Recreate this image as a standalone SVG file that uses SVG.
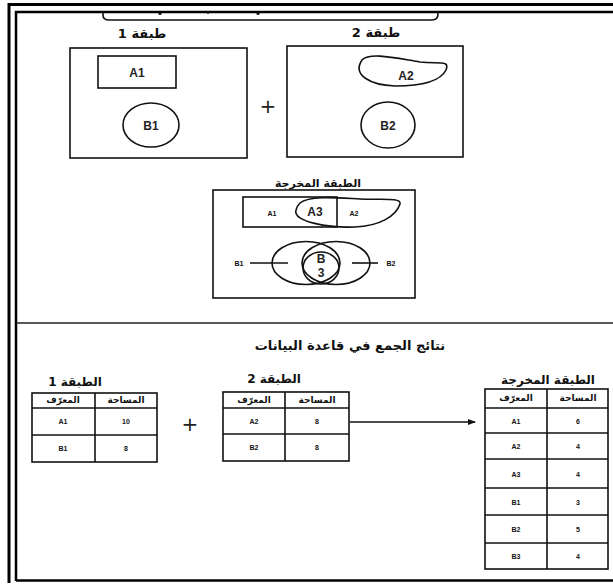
<svg xmlns="http://www.w3.org/2000/svg" width="613" height="584" viewBox="0 0 613 584">
<style>
.ln{fill:none;stroke:#111;stroke-width:1.6}
.tb{fill:#fff;stroke:#111;stroke-width:1.6}
.lbl{font-family:"Liberation Sans",Arial,sans-serif;font-size:12px;font-weight:bold;fill:#222;text-anchor:middle;dominant-baseline:central}
.pl{font-family:"DejaVu Sans",sans-serif;font-size:20px;fill:#222;text-anchor:middle;dominant-baseline:central}
.sm{font-family:"Liberation Sans",Arial,sans-serif;font-size:7px;font-weight:bold;fill:#111;text-anchor:middle;dominant-baseline:central}
.ar{font-family:"DejaVu Sans",sans-serif;font-weight:bold;fill:#111;text-anchor:middle}
.hd{font-family:"DejaVu Sans",sans-serif;font-size:9px;font-weight:bold;fill:#111;text-anchor:middle;dominant-baseline:central}
</style>
<defs>
<marker id="ah" markerWidth="8" markerHeight="6" refX="7" refY="3" orient="auto" markerUnits="userSpaceOnUse"><path d="M0,0 L8,3 L0,6 z" fill="#111"/></marker>
</defs>
<rect width="613" height="584" fill="#fff"/>
<g id="frame">
<path d="M9,583 V4.5 H613" fill="none" stroke="#000" stroke-width="3"/>
<path d="M16,581 V12 H613" fill="none" stroke="#000" stroke-width="2.5"/>
<path d="M16,580.5 H613" fill="none" stroke="#000" stroke-width="2.5"/>
<path d="M103,12 V15 Q103,20 109,20 H432 Q438,20 438,14 V12" class="ln"/>
<circle cx="160" cy="13.5" r="1.6" fill="#111"/><circle cx="208" cy="13" r="1" fill="#111"/><circle cx="258" cy="13.5" r="1.6" fill="#111"/>
<line x1="16" y1="323" x2="613" y2="323" stroke="#222" stroke-width="1.5"/>
</g>
<g id="layer1">
<text x="142" y="38" class="ar" font-size="13">طبقة 1</text>
<rect x="70" y="48" width="177" height="110" class="ln"/>
<rect x="98" y="56" width="78" height="32" class="ln"/>
<text x="137" y="73" class="lbl">A1</text>
<ellipse cx="151" cy="125" rx="28" ry="22" class="ln"/>
<text x="151" y="126" class="lbl">B1</text>
</g>
<g id="plus1"><text x="268" y="106" class="pl">+</text></g>
<g id="layer2">
<text x="376" y="37" class="ar" font-size="13">طبقة 2</text>
<rect x="287" y="46" width="176" height="111" class="ln"/>
<path d="M362,60 C370,52 395,58 420,62 C440,64 450,60 446,70 C440,82 420,86 395,86 C370,85 352,75 362,60 z" class="ln"/>
<text x="406" y="76" class="lbl">A2</text>
<ellipse cx="388" cy="125" rx="27" ry="23" class="ln"/>
<text x="388" y="126" class="lbl">B2</text>
</g>
<g id="output-layer">
<text x="318" y="187" class="ar" font-size="11">الطبقة المخرجة</text>
<rect x="213" y="190" width="202" height="108" class="ln"/>
<rect x="243" y="197" width="94" height="30" class="ln"/>
<path d="M300,203 C310,195 340,198 360,199 C380,200 402,197 400,204 C396,216 380,226 355,227 C330,228 292,222 296,210 C297,206 298,205 300,203 z" class="ln"/>
<text x="272" y="213" class="sm" font-size="9">A1</text>
<text x="315" y="212" class="lbl" font-size="11">A3</text>
<text x="354" y="213" class="sm" font-size="9">A2</text>
<ellipse cx="306" cy="263" rx="34" ry="21.5" class="ln"/>
<ellipse cx="336" cy="263" rx="34" ry="21.5" class="ln"/>
<ellipse cx="321" cy="268" rx="18" ry="16" class="ln"/>
<text x="321" y="259" class="lbl" font-size="11">B</text>
<text x="321" y="273" class="lbl" font-size="11">3</text>
<line x1="250" y1="263" x2="288" y2="263" class="ln"/>
<line x1="352" y1="263" x2="378" y2="263" class="ln"/>
<text x="239" y="263" class="sm" font-size="8">B1</text>
<text x="391" y="263" class="sm" font-size="8">B2</text>
</g>
<g id="title"><text x="350" y="350" class="ar" font-size="13">نتائج الجمع في قاعدة البيانات</text></g>
<g id="table1">
<text x="75" y="386" class="ar" font-size="12">الطبقة 1</text>
<rect x="32" y="393" width="125" height="69" class="tb"/>
<line x1="95" y1="393" x2="95" y2="462" class="ln"/>
<line x1="32" y1="408" x2="157" y2="408" class="ln"/>
<line x1="32" y1="435" x2="157" y2="435" class="ln"/>
<text x="63" y="400" class="hd">المعرّف</text><text x="126" y="400" class="hd">المساحة</text>
<text x="63" y="421" class="sm">A1</text><text x="126" y="421" class="sm">10</text>
<text x="63" y="448" class="sm">B1</text><text x="126" y="448" class="sm">8</text>
</g>
<g id="plus2"><text x="190" y="424" class="pl">+</text></g>
<g id="table2">
<text x="274" y="383" class="ar" font-size="12">الطبقة 2</text>
<rect x="223" y="392" width="126" height="69" class="tb"/>
<line x1="285" y1="392" x2="285" y2="461" class="ln"/>
<line x1="223" y1="408" x2="349" y2="408" class="ln"/>
<line x1="223" y1="434" x2="349" y2="434" class="ln"/>
<text x="254" y="400" class="hd">المعرّف</text><text x="317" y="400" class="hd">المساحة</text>
<text x="254" y="421" class="sm">A2</text><text x="317" y="421" class="sm">8</text>
<text x="254" y="447" class="sm">B2</text><text x="317" y="447" class="sm">8</text>
</g>
<g id="connectors">
<line x1="350" y1="422" x2="475" y2="422" stroke="#111" stroke-width="1.4" marker-end="url(#ah)"/>
</g>
<g id="table-out">
<text x="548" y="384" class="ar" font-size="12">الطبقة المخرجة</text>
<rect x="485" y="389" width="123" height="180" class="tb"/>
<line x1="547" y1="389" x2="547" y2="569" class="ln"/>
<line x1="485" y1="408" x2="608" y2="408" class="ln"/>
<line x1="485" y1="433" x2="608" y2="433" class="ln"/>
<line x1="485" y1="459" x2="608" y2="459" class="ln"/>
<line x1="485" y1="488" x2="608" y2="488" class="ln"/>
<line x1="485" y1="515" x2="608" y2="515" class="ln"/>
<line x1="485" y1="543" x2="608" y2="543" class="ln"/>
<text x="516" y="398" class="hd">المعرّف</text><text x="578" y="398" class="hd">المساحة</text>
<text x="516" y="421" class="sm">A1</text><text x="578" y="421" class="sm">6</text>
<text x="516" y="446" class="sm">A2</text><text x="578" y="446" class="sm">4</text>
<text x="516" y="474" class="sm">A3</text><text x="578" y="474" class="sm">4</text>
<text x="516" y="502" class="sm">B1</text><text x="578" y="502" class="sm">3</text>
<text x="516" y="529" class="sm">B2</text><text x="578" y="529" class="sm">5</text>
<text x="516" y="556" class="sm">B3</text><text x="578" y="556" class="sm">4</text>
</g>
</svg>
